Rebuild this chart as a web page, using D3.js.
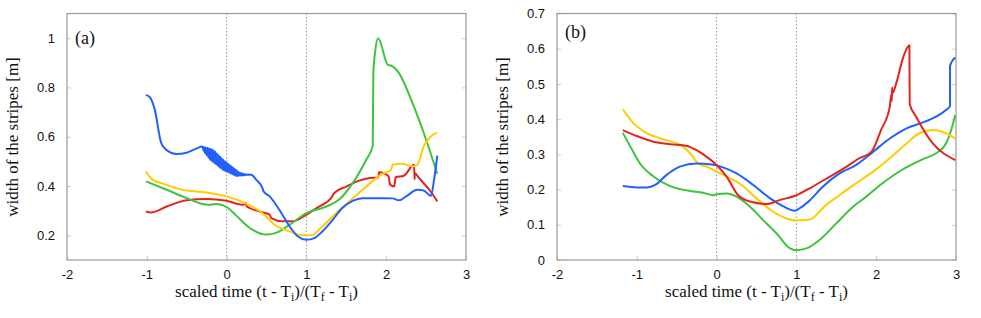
<!DOCTYPE html>
<html>
<head>
<meta charset="utf-8">
<script src="https://cdn.jsdelivr.net/npm/d3@7"></script>
<style>
  body { margin: 0; background: #fff; }
  svg { display: block; }
</style>
</head>
<body>
<div id="chart"></div>
<script>
// panel (a) series, [scaled time, width]
var blueA = [[-1.01,0.77],[-0.96,0.76],[-0.9,0.71],[-0.82,0.575],[-0.75,0.545],[-0.63,0.53],[-0.5,0.535],[-0.38,0.552],
  [-0.30,0.560],[-0.29,0.543],[-0.28,0.558],[-0.27,0.534],[-0.26,0.556],[-0.25,0.525],[-0.24,0.554],[-0.23,0.516],
  [-0.22,0.553],[-0.21,0.507],[-0.20,0.551],[-0.19,0.502],[-0.18,0.549],[-0.17,0.497],[-0.16,0.545],[-0.15,0.492],
  [-0.14,0.539],[-0.13,0.487],[-0.12,0.532],[-0.11,0.481],[-0.10,0.526],[-0.09,0.476],[-0.08,0.520],[-0.07,0.471],
  [-0.06,0.514],[-0.05,0.466],[-0.04,0.507],[-0.03,0.463],[-0.02,0.501],[-0.01,0.460],[0.00,0.495],[0.01,0.457],
  [0.02,0.490],[0.03,0.454],[0.04,0.485],[0.05,0.451],[0.06,0.480],[0.07,0.448],[0.08,0.475],[0.09,0.445],
  [0.10,0.470],[0.11,0.442],[0.12,0.465],[0.13,0.440],[0.14,0.460],[0.15,0.441],[0.16,0.455],[0.17,0.442],
  [0.18,0.453],[0.19,0.443],[0.20,0.451],[0.21,0.443],[0.22,0.449],[0.23,0.444],[0.24,0.447],
  [0.31,0.446],[0.37,0.426],[0.45,0.392],[0.46,0.38],[0.54,0.358],[0.66,0.304],[0.79,0.236],[0.89,0.196],[1.0,0.182],
  [1.1,0.189],[1.2,0.216],[1.33,0.263],[1.45,0.311],[1.58,0.34],[1.7,0.351],[1.95,0.351],[2.08,0.35],[2.16,0.342],
  [2.25,0.358],[2.39,0.385],[2.47,0.382],[2.56,0.36],[2.6,0.426],[2.64,0.523]];
var yellowA = [[-1.01,0.459],[-0.93,0.426],[-0.8,0.41],[-0.55,0.385],[-0.25,0.374],[0,0.358],[0.25,0.328],[0.45,0.29],
  [0.6,0.243],[0.79,0.216],[0.96,0.2],[1.06,0.2],[1.2,0.236],[1.37,0.29],[1.54,0.338],[1.75,0.398],[1.95,0.449],
  [2.06,0.466],[2.08,0.486],[2.2,0.49],[2.33,0.48],[2.39,0.486],[2.47,0.561],[2.56,0.601],[2.64,0.617]];
var greenA = [[-1.01,0.419],[-0.75,0.385],[-0.5,0.351],[-0.23,0.324],[-0.13,0.327],[0,0.315],[0.12,0.28],[0.29,0.23],
  [0.5,0.203],[0.62,0.21],[0.79,0.243],[1.0,0.29],[1.25,0.317],[1.41,0.345],[1.58,0.412],[1.75,0.507],[1.83,0.561],
  [1.84,0.865],[1.86,0.94],[1.9,1.0],[2.02,0.892],[2.06,0.889],[2.16,0.858],[2.33,0.736],[2.5,0.588],[2.64,0.45]];
var redA = [[-1.01,0.297],[-0.95,0.293],[-0.75,0.317],[-0.5,0.342],[-0.25,0.347],[0,0.34],[0.21,0.324],[0.245,0.33],
  [0.25,0.318],[0.41,0.297],[0.54,0.284],[0.56,0.27],[0.7,0.257],[0.83,0.257],[1.0,0.284],[1.16,0.317],[1.31,0.351],
  [1.35,0.372],[1.5,0.398],[1.66,0.422],[1.79,0.433],[1.9,0.435],[1.91,0.456],[2.03,0.44],[2.05,0.405],[2.1,0.398],
  [2.12,0.436],[2.22,0.442],[2.35,0.486],[2.355,0.428],[2.36,0.452],[2.41,0.433],[2.54,0.385],[2.64,0.338]];

// panel (b) series
var blueB = [[-1.175,0.21],[-1.0,0.206],[-0.875,0.206],[-0.77,0.213],[-0.63,0.241],[-0.46,0.265],[-0.25,0.274],
  [-0.08,0.272],[0.08,0.263],[0.25,0.246],[0.46,0.213],[0.67,0.175],[0.83,0.153],[0.98,0.14],[1.04,0.147],[1.17,0.17],
  [1.33,0.208],[1.54,0.246],[1.75,0.27],[1.96,0.307],[2.17,0.345],[2.38,0.374],[2.58,0.39],[2.75,0.407],[2.875,0.426],
  [2.925,0.437],[2.925,0.551],[2.99,0.575]];
var yellowB = [[-1.175,0.428],[-1.04,0.388],[-0.875,0.36],[-0.66,0.342],[-0.45,0.326],[-0.33,0.303],[-0.23,0.274],
  [-0.125,0.265],[0,0.251],[0.17,0.232],[0.33,0.21],[0.5,0.175],[0.71,0.137],[0.875,0.118],[1.0,0.112],[1.17,0.115],
  [1.29,0.137],[1.33,0.147],[1.54,0.184],[1.75,0.218],[1.96,0.251],[2.17,0.289],[2.38,0.331],[2.54,0.36],[2.71,0.369],
  [2.83,0.364],[2.99,0.345]];
var greenB = [[-1.175,0.361],[-1.08,0.322],[-0.96,0.274],[-0.79,0.237],[-0.58,0.21],[-0.33,0.196],[-0.17,0.191],
  [-0.04,0.184],[0,0.187],[0.125,0.189],[0.25,0.18],[0.42,0.151],[0.58,0.114],[0.75,0.076],[0.92,0.033],[1.0,0.028],
  [1.125,0.033],[1.29,0.057],[1.5,0.104],[1.71,0.151],[1.875,0.18],[2.08,0.218],[2.33,0.257],[2.58,0.286],[2.75,0.303],
  [2.875,0.331],[2.94,0.369],[2.99,0.412]];
var redB = [[-1.175,0.369],[-1.0,0.352],[-0.79,0.336],[-0.58,0.329],[-0.37,0.324],[-0.25,0.312],[-0.125,0.293],[0,0.27],
  [0.125,0.237],[0.27,0.184],[0.42,0.166],[0.625,0.159],[0.79,0.17],[1.0,0.184],[1.2,0.208],[1.42,0.237],[1.63,0.265],
  [1.79,0.289],[1.94,0.307],[2.06,0.369],[2.17,0.435],[2.19,0.47],[2.195,0.452],[2.2,0.49],[2.205,0.474],[2.25,0.501],
  [2.34,0.577],[2.416,0.61],[2.42,0.443],[2.5,0.407],[2.71,0.331],[2.99,0.284]];

var xTicks = [-2, -1, 0, 1, 2, 3];
var yTicksA = [0.2, 0.4, 0.6, 0.8, 1];
var yTicksB = [0, 0.1, 0.2, 0.3, 0.4, 0.5, 0.6, 0.7];
var colors = {blue: "#2160ff", yellow: "#ffcc00", green: "#3cc43c", red: "#e3241c"};

var W = 981, H = 318;
var svg = d3.select("#chart").append("svg").attr("width", W).attr("height", H);

// gnuplot-like labels: plain hyphen, no trailing zeros
function num(d) { return String(d); }

function panel(left, right, yDomain, yTicks, label, labelY, series) {
  var top = 13.5, bottom = 260;
  var x = d3.scaleLinear().domain([-2, 3]).range([left, right]);
  var y = d3.scaleLinear().domain(yDomain).range([bottom, top]);
  var g = svg.append("g");

  // dotted guides at t = Ti and t = Tf
  [0, 1].forEach(function(v) {
    g.append("line").attr("x1", x(v)).attr("x2", x(v)).attr("y1", top).attr("y2", bottom)
      .attr("stroke", "#999").attr("stroke-width", 1).attr("stroke-dasharray", "1.5,2");
  });

  // axes (ticks drawn inward, gnuplot style)
  var yAxis = d3.axisLeft(y).tickValues(yTicks).tickFormat(num).tickSizeInner(-4).tickSizeOuter(0).tickPadding(12);
  var ya = g.append("g").attr("transform", "translate(" + left + ",0)").call(yAxis);
  var yr = g.append("g").attr("transform", "translate(" + right + ",0)")
    .call(d3.axisRight(y).tickValues(yTicks).tickSize(-4).tickFormat(""));
  var xAxis = d3.axisBottom(x).tickValues(xTicks).tickFormat(num).tickSizeInner(-4).tickSizeOuter(0).tickPadding(10);
  var xa = g.append("g").attr("transform", "translate(0," + bottom + ")").call(xAxis);
  [ya, yr, xa].forEach(function(a) {
    a.select(".domain").remove();
    a.selectAll("line").attr("stroke", "#ccc");
    a.selectAll("text").attr("font-family", "Liberation Sans, Arial, sans-serif").attr("font-size", 13).attr("fill", "#111");
  });

  g.append("rect").attr("x", left).attr("y", top).attr("width", right - left).attr("height", bottom - top)
    .attr("fill", "none").attr("stroke", "#999").attr("stroke-width", 1.2);

  var line = d3.line().x(function(d) { return x(d[0]); }).y(function(d) { return y(d[1]); }).curve(d3.curveMonotoneX);
  series.forEach(function(s) {
    g.append("path").datum(s.data).attr("d", line).attr("fill", "none")
      .attr("stroke", s.color).attr("stroke-width", 2).attr("stroke-linejoin", "round");
  });

  g.append("text").attr("x", left + 8).attr("y", labelY).text(label)
    .attr("font-family", "Liberation Serif, Times New Roman, serif").attr("font-size", 18).attr("fill", "#111");

  // axis titles
  var xt = g.append("text").attr("x", (left + right) / 2).attr("y", 297).attr("text-anchor", "middle")
    .attr("font-family", "Liberation Serif, Times New Roman, serif").attr("font-size", 17).attr("fill", "#111");
  xt.append("tspan").text("scaled time (t - T");
  xt.append("tspan").text("i").attr("font-size", 12).attr("dy", 4);
  xt.append("tspan").text(")/(T").attr("dy", -4);
  xt.append("tspan").text("f").attr("font-size", 12).attr("dy", 4);
  xt.append("tspan").text(" - T").attr("dy", -4);
  xt.append("tspan").text("i").attr("font-size", 12).attr("dy", 4);
  xt.append("tspan").text(")").attr("dy", -4);

  g.append("text").attr("transform", "translate(" + (left - 49) + ",137) rotate(-90)").attr("text-anchor", "middle")
    .text("width of the stripes [m]")
    .attr("font-family", "Liberation Serif, Times New Roman, serif").attr("font-size", 17).attr("fill", "#111");
}

panel(67, 466, [0.1, 1.1], yTicksA, "(a)", 44, [
  {data: redA, color: colors.red}, {data: greenA, color: colors.green},
  {data: yellowA, color: colors.yellow}, {data: blueA, color: colors.blue}]);
panel(557, 956, [0, 0.7], yTicksB, "(b)", 38, [
  {data: greenB, color: colors.green}, {data: yellowB, color: colors.yellow},
  {data: blueB, color: colors.blue}, {data: redB, color: colors.red}]);
</script>
</body>
</html>
